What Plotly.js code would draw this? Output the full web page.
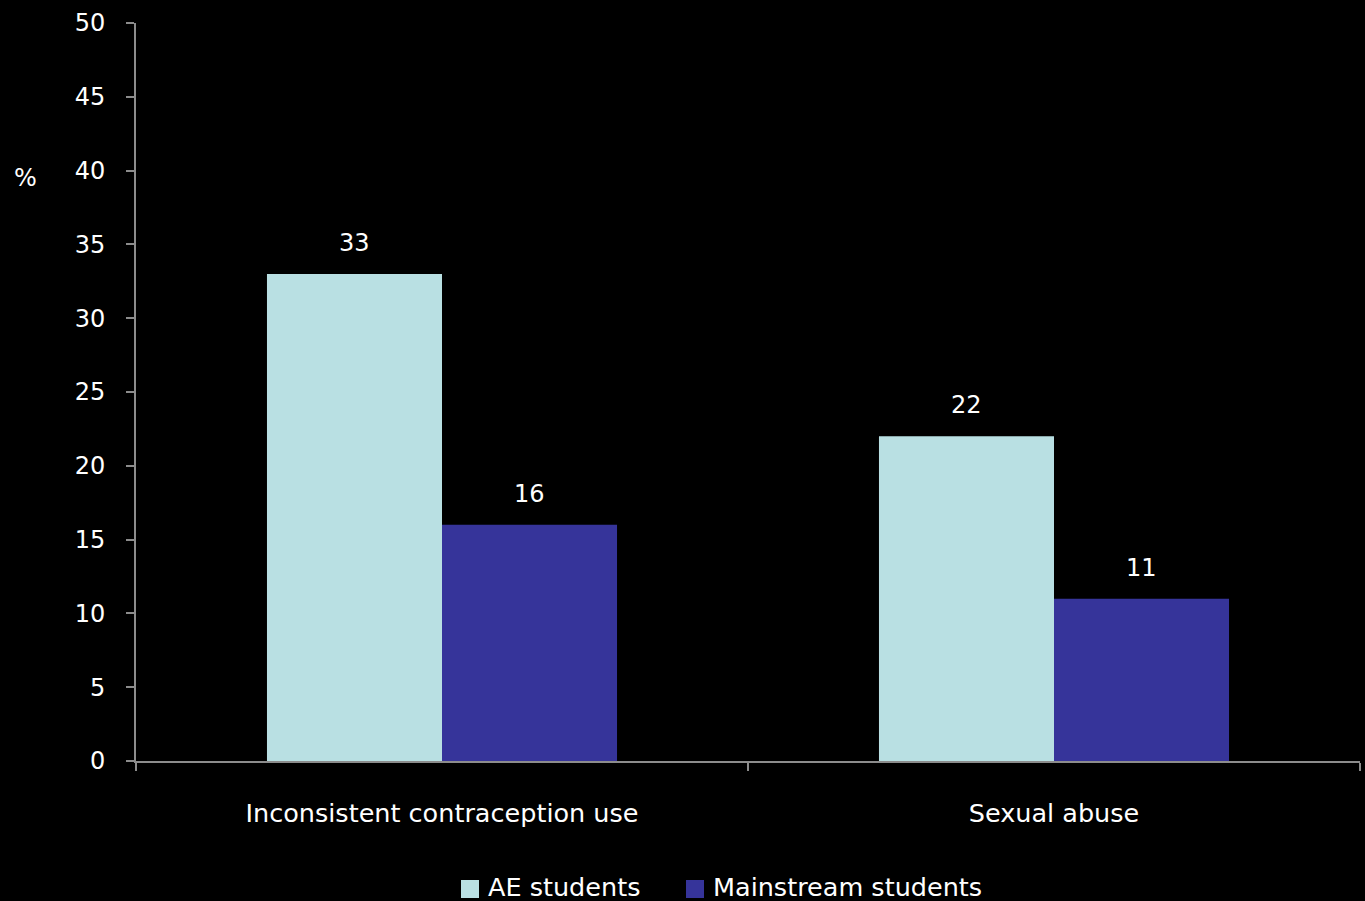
<!DOCTYPE html>
<html>
<head>
<meta charset="utf-8">
<script src="https://cdn.plot.ly/plotly-3.0.1.min.js"></script>
<style>html,body{margin:0;padding:0;background:#000;}#chart{width:1365px;height:901px;}</style>
</head>
<body>
<div id="chart"></div>
<script>
const categories = ["Inconsistent contraception use", "Sexual abuse"];
const seriesNames = ["AE students", "Mainstream students"];
const aeValues = [33, 22];
const mainstreamValues = [16, 11];
const yTicks = [0, 5, 10, 15, 20, 25, 30, 35, 40, 45, 50];
const colors = ["#b9e0e3", "#36349a"];

const FONT = "DejaVu Sans, sans-serif";
const white = "#ffffff";

const traces = [
  {type: "bar", name: seriesNames[0], x: categories, y: aeValues, marker: {color: colors[0]}, showlegend: false},
  {type: "bar", name: seriesNames[1], x: categories, y: mainstreamValues, marker: {color: colors[1]}, showlegend: false}
];

// value labels above bars
const annotations = [];
const seriesVals = [aeValues, mainstreamValues];
const offsets = [-87.5, 87.5];
seriesVals.forEach((vals, s) => {
  vals.forEach((v, i) => {
    annotations.push({x: categories[i], y: v, xref: "x", yref: "y", text: String(v), showarrow: false,
      xshift: offsets[s], yshift: 15, yanchor: "bottom", font: {size: 24, color: white, family: FONT}});
  });
});
// y-axis title "%"
annotations.push({text: "%", xref: "paper", yref: "paper", x: -0.0899, y: 0.79, xanchor: "center",
  yanchor: "middle", showarrow: false, font: {size: 24, color: white, family: FONT}});

// manual legend
const legendX = [461, 686];
const shapes = [];
seriesNames.forEach((name, s) => {
  shapes.push({type: "rect", xref: "paper", yref: "paper",
    x0: (legendX[s] - 136) / 1224, x1: (legendX[s] + 18 - 136) / 1224,
    y0: (761 - 898) / 738, y1: (761 - 880) / 738,
    fillcolor: colors[s], line: {width: 0}});
  annotations.push({text: name, xref: "paper", yref: "paper", x: (legendX[s] + 25 - 136) / 1224,
    y: (761 - 887) / 738, xanchor: "left", yanchor: "middle", showarrow: false,
    font: {size: 25.5, color: white, family: FONT}});
});

const layout = {
  width: 1365, height: 901,
  paper_bgcolor: "#000000", plot_bgcolor: "#000000",
  font: {family: FONT, color: white, size: 24},
  margin: {l: 136, r: 5, t: 23, b: 140, autoexpand: false},
  barmode: "group", bargap: 0.428, bargroupgap: 0,
  showlegend: false,
  xaxis: {type: "category", showline: true, linecolor: "#8c8c8c", linewidth: 2, automargin: false,
          ticks: "outside", tickson: "boundaries", ticklen: 8, tickcolor: "#8c8c8c", tickwidth: 2,
          showgrid: false, zeroline: false, ticklabelstandoff: 28,
          tickfont: {size: 25.5, color: white, family: FONT}},
  yaxis: {range: [0, 50], tickvals: yTicks, ticktext: yTicks.map(String), showline: true, automargin: false,
          linecolor: "#8c8c8c", linewidth: 2, ticks: "outside", ticklen: 8, tickcolor: "#8c8c8c",
          tickwidth: 2, showgrid: false, zeroline: false, ticklabelstandoff: 16,
          tickfont: {size: 24, color: white, family: FONT}},
  shapes: shapes,
  annotations: annotations
};

Plotly.newPlot("chart", traces, layout, {displayModeBar: false});
</script>
</body>
</html>
